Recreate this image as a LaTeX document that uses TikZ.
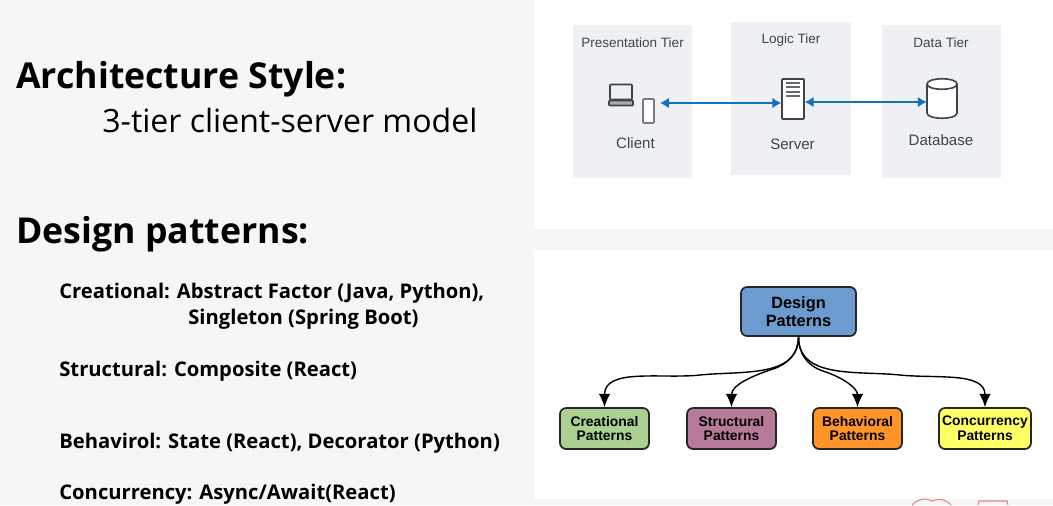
\documentclass[tikz,border=0pt]{standalone}
\usepackage{fontspec}
\setmainfont{Open Sans}
\newfontfamily\figfont{Liberation Sans}
\usepackage[rgb]{xcolor}
\definecolor{slidebg}{RGB}{246,246,246}
\definecolor{tierbg}{RGB}{239,240,244}
\definecolor{tierink}{RGB}{62,68,76}
\definecolor{linkblue}{RGB}{20,114,184}
\definecolor{designblue}{RGB}{108,155,207}
\definecolor{creatgreen}{RGB}{171,208,144}
\definecolor{structpink}{RGB}{184,122,155}
\definecolor{behavorange}{RGB}{255,148,40}
\definecolor{concyellow}{RGB}{255,255,102}
\definecolor{stampred}{RGB}{232,130,125}
\usetikzlibrary{arrows.meta}

\begin{document}
\begin{tikzpicture}[x=0.02cm,y=-0.02cm,
  headnode/.style={anchor=base west,inner sep=0pt,font=\fontsize{20.3}{24}\selectfont\bfseries},
  subnode/.style={anchor=base west,inner sep=0pt,font=\fontsize{18.25}{22}\selectfont},
  itemnode/.style={anchor=base west,inner sep=0pt,font=\fontsize{11.5}{14}\selectfont\bfseries},
  tierbox/.style={draw=none,fill=tierbg,inner sep=0pt,anchor=north west},
  tiertext/.style={text=tierink,font=\fontsize{7.7}{9}\figfont,inner sep=0pt},
  bigtext/.style={tiertext,font=\fontsize{8.6}{10}\figfont},
  iconnode/.style={draw=tierink,fill=white,line width=0.9pt,inner sep=0pt,rectangle,rounded corners=0.4pt},
  linkarrow/.style={draw=linkblue,line width=1.6pt,{Latex[length=5pt,width=6pt]}-{Latex[length=5pt,width=6pt]}},
  patbox/.style={draw=black!85,line width=1pt,rounded corners=3.5pt,inner sep=0pt,align=center,
    minimum width=89*0.02cm,minimum height=41*0.02cm,font=\fontsize{7.9}{8.5}\figfont\bfseries},
  patarrow/.style={draw=black,line width=0.8pt,-{Latex[length=7.5pt,width=6.5pt]}}
]
\useasboundingbox (0,0) rectangle (1053,505);
\fill[slidebg] (0,0) rectangle (1053,505);
\fill[white] (534,0) rectangle (1053,229);
\fill[white] (534,250) rectangle (1053,499);

% the slide text
\node[headnode] (archhead) at (16,88) {Architecture Style:};
\node[subnode] (archsub) at (102,132) {3-tier client-server model};
\node[headnode] (patthead) at (16,243) {Design patterns:};
\node[itemnode] (item1) at (59,298) {Creational: Abstract Factor (Java, Python),};
\node[itemnode] (item1b) at (188,324) {Singleton (Spring Boot)};
\node[itemnode] (item2) at (59,376) {Structural: Composite (React)};
\node[itemnode] (item3) at (59,448) {Behavirol: State (React), Decorator (Python)};
\node[itemnode] (item4) at (59,499) {Concurrency: Async/Await(React)};

% the tiers
\node[tierbox,minimum width=119*0.02cm,minimum height=153*0.02cm] (prestier) at (573,25) {};
\node[tierbox,minimum width=120*0.02cm,minimum height=153*0.02cm] (logictier) at (731,22) {};
\node[tierbox,minimum width=119*0.02cm,minimum height=153*0.02cm] (datatier) at (882,25) {};
\node[tiertext] (preslabel) at (632.5,43) {Presentation Tier};
\node[tiertext] (logiclabel) at (791,40) {Logic Tier};
\node[tiertext] (datalabel) at (941,43) {Data Tier};
\node[bigtext] (clientlabel) at (635.5,143) {Client};
\node[bigtext] (serverlabel) at (792.5,144) {Server};
\node[bigtext] (dblabel) at (941,140) {Database};

% the icons
\node[iconnode,fill=tierbg,minimum width=22*0.02cm,minimum height=15*0.02cm] (laptop) at (621,92) {};
\node[iconnode,fill=tierink!45,minimum width=24*0.02cm,minimum height=5*0.02cm] (laptopbase) at (621,103) {};
\node[iconnode,draw=tierink!70,minimum width=11*0.02cm,minimum height=24*0.02cm] (phone) at (648.5,111) {};
\node[iconnode,minimum width=22*0.02cm,minimum height=40*0.02cm] (srv) at (793,99) {};
\foreach \y in {83,87,92,96}
    \draw[tierink!80,line width=1pt] (786,\y) -- (800,\y);
\node[inner sep=0pt,minimum width=30*0.02cm,minimum height=39*0.02cm] (db) at (942,98.5) {};
\draw[tierink,fill=white,line width=0.9pt] (927,84) -- (927,113) .. controls (927,120) and (957,120) .. (957,113) -- (957,84)
    .. controls (957,77) and (927,77) .. (927,84) .. controls (927,91) and (957,91) .. (957,84);
\coordinate (clientport) at (660,103);

% the links
\draw[linkarrow] (clientport) -- (clientport -| srv.west);
\draw[linkarrow] (srv.east |- 0,102) -- (db.west |- 0,102);

% the pattern boxes
\node[patbox,fill=designblue,minimum width=115*0.02cm,minimum height=49*0.02cm,font=\fontsize{9.3}{10.2}\figfont\bfseries] (design) at (798.5,311.5) {Design\\Patterns};
\node[patbox,fill=creatgreen] (creat) at (604.5,428.5) {Creational\\Patterns};
\node[patbox,fill=structpink] (struct) at (731.5,428.5) {Structural\\Patterns};
\node[patbox,fill=behavorange] (behav) at (857.5,428.5) {Behavioral\\Patterns};
\node[patbox,fill=concyellow,minimum width=92*0.02cm] (conc) at (985,428.5) {Concurrency\\Patterns};

% the arrows
\foreach \child/\mx/\my/\angin/\angout in {creat/700/375/6/186,struct/773/369/18/198,behav/823/371/162/-18,conc/900/375/174/-6}
    \draw[patarrow] (design.south) to[out=270,in=\angin] (\mx,\my) to[out=\angout,in=90] (\child.north);

% the stamp at the bottom edge
\draw[stampred,line width=0.6pt] (912,505) .. controls (918,498) and (928,498) .. (932,501) .. controls (938,498) and (946,499) .. (951,505);
\draw[stampred,line width=0.6pt] (978,505) -- (979,501) -- (1007,501) -- (1008,505);

\end{tikzpicture}
\end{document}
